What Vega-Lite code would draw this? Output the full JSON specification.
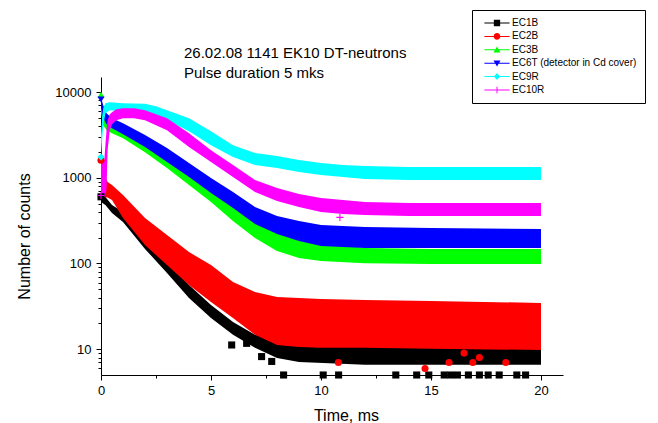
{
  "$schema": "https://vega.github.io/schema/vega-lite/v6.json",
  "width": 462,
  "height": 298,
  "autosize": {"type": "none"},
  "padding": {"left": 101, "top": 77, "right": 95, "bottom": 48},
  "background": "white",
  "config": {
    "view": {"stroke": null},
    "font": "Liberation Sans",
    "axis": {"labelFont": "Liberation Sans", "titleFont": "Liberation Sans", "labelColor": "black", "titleColor": "black", "tickColor": "black", "domainColor": "black", "grid": false},
    "legend": {
      "orient": "none", "legendX": 371, "legendY": -67, "title": null,
      "strokeColor": "black", "fillColor": "white", "padding": 8,
      "labelFont": "Liberation Sans", "labelFontSize": 10, "labelColor": "black",
      "symbolSize": 49, "symbolStrokeWidth": 0, "rowPadding": 3.4,
      "symbolOffset": 12, "labelOffset": 10, "symbolOpacity": 1, "labelLimit": 300
    }
  },
  "title": {
    "text": ["26.02.08 1141 EK10 DT-neutrons", "Pulse duration 5 mks"],
    "anchor": "start",
    "frame": "group",
    "dx": 83,
    "offset": -71,
    "fontSize": 15,
    "fontWeight": "normal",
    "font": "Liberation Sans",
    "color": "black",
    "lineHeight": 20
  },
  "datasets": {
    "bands": [
      {"s": "EC1B", "t": 0, "lo": 521, "hi": 629},
      {"s": "EC1B", "t": 0.2, "lo": 481, "hi": 596},
      {"s": "EC1B", "t": 0.5, "lo": 388, "hi": 481},
      {"s": "EC1B", "t": 1, "lo": 305, "hi": 398},
      {"s": "EC1B", "t": 2, "lo": 148, "hi": 198},
      {"s": "EC1B", "t": 3, "lo": 77.5, "hi": 104},
      {"s": "EC1B", "t": 4, "lo": 39.6, "hi": 56.2},
      {"s": "EC1B", "t": 5, "lo": 23.2, "hi": 32.8},
      {"s": "EC1B", "t": 6, "lo": 14.7, "hi": 20.8},
      {"s": "EC1B", "t": 7, "lo": 10.4, "hi": 14.7},
      {"s": "EC1B", "t": 8, "lo": 7.9, "hi": 12.8},
      {"s": "EC1B", "t": 9, "lo": 7.1, "hi": 12.8},
      {"s": "EC1B", "t": 12, "lo": 6.6, "hi": 12.8},
      {"s": "EC1B", "t": 16, "lo": 6.6, "hi": 12.8},
      {"s": "EC1B", "t": 20, "lo": 6.6, "hi": 12.8},
      {"s": "EC2B", "t": 0, "lo": 629, "hi": 1697},
      {"s": "EC2B", "t": 0.1, "lo": 596, "hi": 1229},
      {"s": "EC2B", "t": 0.3, "lo": 590, "hi": 891},
      {"s": "EC2B", "t": 0.5, "lo": 550, "hi": 822},
      {"s": "EC2B", "t": 1, "lo": 339, "hi": 629},
      {"s": "EC2B", "t": 2, "lo": 164, "hi": 339},
      {"s": "EC2B", "t": 3, "lo": 96, "hi": 215},
      {"s": "EC2B", "t": 4, "lo": 56, "hi": 136},
      {"s": "EC2B", "t": 5, "lo": 35.6, "hi": 96},
      {"s": "EC2B", "t": 6, "lo": 23.2, "hi": 60.9},
      {"s": "EC2B", "t": 7, "lo": 14.7, "hi": 46.5},
      {"s": "EC2B", "t": 8, "lo": 11.2, "hi": 40.7},
      {"s": "EC2B", "t": 9, "lo": 10.6, "hi": 39.6},
      {"s": "EC2B", "t": 10, "lo": 10.4, "hi": 38.6},
      {"s": "EC2B", "t": 12, "lo": 10.4, "hi": 37.5},
      {"s": "EC2B", "t": 15, "lo": 10.1, "hi": 36.6},
      {"s": "EC2B", "t": 20, "lo": 9.8, "hi": 34.6},
      {"s": "EC3B", "t": 0, "lo": 5831, "hi": 8721},
      {"s": "EC3B", "t": 0.1, "lo": 4115, "hi": 6152},
      {"s": "EC3B", "t": 0.25, "lo": 3598, "hi": 4965},
      {"s": "EC3B", "t": 0.5, "lo": 3320, "hi": 4460},
      {"s": "EC3B", "t": 1, "lo": 2903, "hi": 3900},
      {"s": "EC3B", "t": 2, "lo": 1993, "hi": 2751},
      {"s": "EC3B", "t": 3, "lo": 1297, "hi": 1839},
      {"s": "EC3B", "t": 4, "lo": 822, "hi": 1229},
      {"s": "EC3B", "t": 5, "lo": 521, "hi": 800},
      {"s": "EC3B", "t": 6, "lo": 313, "hi": 521},
      {"s": "EC3B", "t": 7, "lo": 198, "hi": 358},
      {"s": "EC3B", "t": 8, "lo": 140, "hi": 246},
      {"s": "EC3B", "t": 9, "lo": 116, "hi": 198},
      {"s": "EC3B", "t": 10, "lo": 107, "hi": 173},
      {"s": "EC3B", "t": 12, "lo": 101, "hi": 152},
      {"s": "EC3B", "t": 15, "lo": 98.7, "hi": 148},
      {"s": "EC3B", "t": 20, "lo": 98.7, "hi": 148},
      {"s": "EC6T (detector in Cd cover)", "t": 0, "lo": 6492, "hi": 8721},
      {"s": "EC6T (detector in Cd cover)", "t": 0.1, "lo": 4965, "hi": 7035},
      {"s": "EC6T (detector in Cd cover)", "t": 0.25, "lo": 4227, "hi": 5677},
      {"s": "EC6T (detector in Cd cover)", "t": 0.5, "lo": 3797, "hi": 4965},
      {"s": "EC6T (detector in Cd cover)", "t": 1, "lo": 3232, "hi": 4342},
      {"s": "EC6T (detector in Cd cover)", "t": 2, "lo": 2280, "hi": 3147},
      {"s": "EC6T (detector in Cd cover)", "t": 3, "lo": 1524, "hi": 2220},
      {"s": "EC6T (detector in Cd cover)", "t": 4, "lo": 1019, "hi": 1484},
      {"s": "EC6T (detector in Cd cover)", "t": 5, "lo": 663, "hi": 992},
      {"s": "EC6T (detector in Cd cover)", "t": 6, "lo": 444, "hi": 681},
      {"s": "EC6T (detector in Cd cover)", "t": 7, "lo": 289, "hi": 456},
      {"s": "EC6T (detector in Cd cover)", "t": 8, "lo": 221, "hi": 358},
      {"s": "EC6T (detector in Cd cover)", "t": 9, "lo": 183, "hi": 313},
      {"s": "EC6T (detector in Cd cover)", "t": 10, "lo": 160, "hi": 281},
      {"s": "EC6T (detector in Cd cover)", "t": 12, "lo": 152, "hi": 266},
      {"s": "EC6T (detector in Cd cover)", "t": 15, "lo": 152, "hi": 259},
      {"s": "EC6T (detector in Cd cover)", "t": 20, "lo": 152, "hi": 252},
      {"s": "EC9R", "t": 0, "lo": 1743, "hi": 3147},
      {"s": "EC9R", "t": 0.05, "lo": 2751, "hi": 4965},
      {"s": "EC9R", "t": 0.1, "lo": 4006, "hi": 6492},
      {"s": "EC9R", "t": 0.2, "lo": 5677, "hi": 7422},
      {"s": "EC9R", "t": 0.4, "lo": 6152, "hi": 7624},
      {"s": "EC9R", "t": 1, "lo": 5990, "hi": 7422},
      {"s": "EC9R", "t": 2, "lo": 5677, "hi": 7323},
      {"s": "EC9R", "t": 2.5, "lo": 5381, "hi": 6849},
      {"s": "EC9R", "t": 3, "lo": 4706, "hi": 6152},
      {"s": "EC9R", "t": 4, "lo": 3503, "hi": 4965},
      {"s": "EC9R", "t": 5, "lo": 2405, "hi": 3503},
      {"s": "EC9R", "t": 6, "lo": 1743, "hi": 2405},
      {"s": "EC9R", "t": 7, "lo": 1406, "hi": 1941},
      {"s": "EC9R", "t": 8, "lo": 1297, "hi": 1790},
      {"s": "EC9R", "t": 9, "lo": 1165, "hi": 1608},
      {"s": "EC9R", "t": 10, "lo": 1075, "hi": 1484},
      {"s": "EC9R", "t": 11, "lo": 1019, "hi": 1406},
      {"s": "EC9R", "t": 12, "lo": 966, "hi": 1369},
      {"s": "EC9R", "t": 14, "lo": 940, "hi": 1333},
      {"s": "EC9R", "t": 20, "lo": 940, "hi": 1333},
      {"s": "EC10R", "t": 0, "lo": 596, "hi": 1406},
      {"s": "EC10R", "t": 0.15, "lo": 596, "hi": 1608},
      {"s": "EC10R", "t": 0.25, "lo": 719, "hi": 3598},
      {"s": "EC10R", "t": 0.3, "lo": 2103, "hi": 4706},
      {"s": "EC10R", "t": 0.4, "lo": 3598, "hi": 5527},
      {"s": "EC10R", "t": 0.5, "lo": 4227, "hi": 5831},
      {"s": "EC10R", "t": 0.7, "lo": 4706, "hi": 6320},
      {"s": "EC10R", "t": 1, "lo": 4965, "hi": 6492},
      {"s": "EC10R", "t": 1.5, "lo": 4965, "hi": 6492},
      {"s": "EC10R", "t": 2, "lo": 4706, "hi": 6152},
      {"s": "EC10R", "t": 3, "lo": 3598, "hi": 4965},
      {"s": "EC10R", "t": 4, "lo": 2280, "hi": 3320},
      {"s": "EC10R", "t": 5, "lo": 1524, "hi": 2103},
      {"s": "EC10R", "t": 6, "lo": 1019, "hi": 1406},
      {"s": "EC10R", "t": 7, "lo": 681, "hi": 940},
      {"s": "EC10R", "t": 8, "lo": 535, "hi": 759},
      {"s": "EC10R", "t": 9, "lo": 456, "hi": 646},
      {"s": "EC10R", "t": 10, "lo": 398, "hi": 580},
      {"s": "EC10R", "t": 11, "lo": 378, "hi": 550},
      {"s": "EC10R", "t": 12, "lo": 367, "hi": 521},
      {"s": "EC10R", "t": 14, "lo": 358, "hi": 507},
      {"s": "EC10R", "t": 20, "lo": 358, "hi": 507}
    ],
    "pts": [
      {"s": "EC1B", "t": 0, "v": 600},
      {"s": "EC1B", "t": 5.94, "v": 11.2},
      {"s": "EC1B", "t": 6.62, "v": 11.7},
      {"s": "EC1B", "t": 7.3, "v": 8.2},
      {"s": "EC1B", "t": 7.76, "v": 7.2},
      {"s": "EC1B", "t": 8.3, "v": 5},
      {"s": "EC1B", "t": 10.1, "v": 5},
      {"s": "EC1B", "t": 10.8, "v": 5},
      {"s": "EC1B", "t": 13.4, "v": 5},
      {"s": "EC1B", "t": 14.35, "v": 5},
      {"s": "EC1B", "t": 14.9, "v": 5},
      {"s": "EC1B", "t": 15.6, "v": 5},
      {"s": "EC1B", "t": 15.9, "v": 5},
      {"s": "EC1B", "t": 16.2, "v": 5},
      {"s": "EC1B", "t": 16.7, "v": 5},
      {"s": "EC1B", "t": 17.2, "v": 5},
      {"s": "EC1B", "t": 17.6, "v": 5},
      {"s": "EC1B", "t": 18.1, "v": 5},
      {"s": "EC1B", "t": 18.9, "v": 5},
      {"s": "EC1B", "t": 19.3, "v": 5},
      {"s": "EC2B", "t": 0, "v": 1600},
      {"s": "EC2B", "t": 10.79, "v": 7.0},
      {"s": "EC2B", "t": 14.73, "v": 5.94},
      {"s": "EC2B", "t": 15.82, "v": 7.0},
      {"s": "EC2B", "t": 16.5, "v": 9.0},
      {"s": "EC2B", "t": 16.9, "v": 7.0},
      {"s": "EC2B", "t": 17.2, "v": 8.0},
      {"s": "EC2B", "t": 18.4, "v": 7.0},
      {"s": "EC3B", "t": 0, "v": 9300},
      {"s": "EC6T (detector in Cd cover)", "t": 0, "v": 8200},
      {"s": "EC9R", "t": 0, "v": 1750},
      {"s": "EC10R", "t": 0, "v": 620},
      {"s": "EC10R", "t": 10.86, "v": 345}
    ]
  },
  "layer": [
    {
      "data": {"name": "pts"},
      "transform": [{"filter": "datum.t < 0"}],
      "mark": {"type": "point", "filled": true, "opacity": 1, "size": 49},
      "encoding": {
        "x": {"field": "t", "type": "quantitative", "scale": {"domain": [0, 21], "nice": false, "zero": false}, "axis": null},
        "y": {"field": "v", "type": "quantitative", "scale": {"type": "log", "domain": [5, 15000], "nice": false}, "axis": null},
        "color": {
          "field": "s", "type": "nominal",
          "scale": {"domain": ["EC1B", "EC2B", "EC3B", "EC6T (detector in Cd cover)", "EC9R", "EC10R"], "range": ["#000000", "#ff0000", "#00ff00", "#0000ff", "#00ffff", "#ff00ff"]},
          "legend": {"title": null}
        },
        "shape": {
          "field": "s", "type": "nominal",
          "scale": {"domain": ["EC1B", "EC2B", "EC3B", "EC6T (detector in Cd cover)", "EC9R", "EC10R"], "range": [
            "M-3.6,-0.14H3.6V0.14H-3.6Z M-0.9,-0.9H0.9V0.9H-0.9Z",
            "M-3.6,-0.14H3.6V0.14H-3.6Z M0.95,0A0.95,0.95,0,1,1,-0.95,0A0.95,0.95,0,1,1,0.95,0Z",
            "M-3.6,-0.14H3.6V0.14H-3.6Z M0,-0.95L1,0.8L-1,0.8Z",
            "M-3.6,-0.14H3.6V0.14H-3.6Z M0,0.95L-1,-0.8L1,-0.8Z",
            "M-3.6,-0.14H3.6V0.14H-3.6Z M0,-1L0.85,0L0,1L-0.85,0Z",
            "M-3.6,-0.14H3.6V0.14H-3.6Z M-0.14,-0.9H0.14V0.9H-0.14Z"
          ]},
          "legend": {"title": null}
        }
      }
    },
    {
      "data": {"name": "bands"},
      "mark": {"type": "area", "opacity": 1, "interpolate": "linear"},
      "encoding": {
        "x": {
          "field": "t", "type": "quantitative",
          "scale": {"domain": [0, 21], "nice": false, "zero": false},
          "axis": {
            "values": [0, 5, 10, 15, 20], "title": "Time, ms",
            "titleFontSize": 16, "titleFontWeight": "normal",
            "titleX": 245, "titleY": 45, "titleBaseline": "alphabetic",
            "labelFontSize": 13, "labelPadding": 4, "labelFlush": false,
            "tickSize": 5
          }
        },
        "y": {
          "field": "hi", "type": "quantitative",
          "scale": {"type": "log", "domain": [5, 15000], "nice": false},
          "axis": {
            "values": [10, 100, 1000, 10000], "format": "d",
            "title": "Number of counts", "titleFontSize": 16, "titleFontWeight": "normal",
            "titleX": -72, "titleY": 159, "titleAngle": -90, "titleBaseline": "alphabetic",
            "labelFontSize": 13, "labelPadding": 5, "tickSize": 5
          }
        },
        "y2": {"field": "lo"},
        "color": {
          "field": "s", "type": "nominal",
          "scale": {"domain": ["EC1B", "EC2B", "EC3B", "EC6T (detector in Cd cover)", "EC9R", "EC10R"], "range": ["#000000", "#ff0000", "#00ff00", "#0000ff", "#00ffff", "#ff00ff"]},
          "legend": null
        }
      }
    },
    {
      "data": {"name": "pts"},
      "mark": {"type": "point", "filled": true, "opacity": 1, "size": 50},
      "encoding": {
        "x": {
          "field": "t", "type": "quantitative",
          "scale": {"domain": [0, 21], "nice": false, "zero": false},
          "axis": {"values": [2.5, 7.5, 12.5, 17.5], "labels": false, "title": null, "tickSize": 3, "domain": false, "orient": "bottom"}
        },
        "y": {
          "field": "v", "type": "quantitative",
          "scale": {"type": "log", "domain": [5, 15000], "nice": false},
          "axis": {"values": [6, 7, 8, 9, 20, 30, 40, 50, 60, 70, 80, 90, 200, 300, 400, 500, 600, 700, 800, 900, 2000, 3000, 4000, 5000, 6000, 7000, 8000, 9000], "labels": false, "title": null, "tickSize": 3, "domain": false, "orient": "left"}
        },
        "color": {
          "field": "s", "type": "nominal",
          "scale": {"domain": ["EC1B", "EC2B", "EC3B", "EC6T (detector in Cd cover)", "EC9R", "EC10R"], "range": ["#000000", "#ff0000", "#00ff00", "#0000ff", "#00ffff", "#ff00ff"]},
          "legend": null
        },
        "shape": {
          "field": "s", "type": "nominal",
          "scale": {"domain": ["EC1B", "EC2B", "EC3B", "EC6T (detector in Cd cover)", "EC9R", "EC10R"], "range": ["square", "circle", "triangle-up", "triangle-down", "diamond", "M-1,-0.15H1V0.15H-1Z M-0.15,-1H0.15V1H-0.15Z"]},
          "legend": null
        }
      }
    }
  ],
  "resolve": {"scale": {"shape": "independent", "color": "independent"}, "axis": {"x": "independent", "y": "independent"}}
}
